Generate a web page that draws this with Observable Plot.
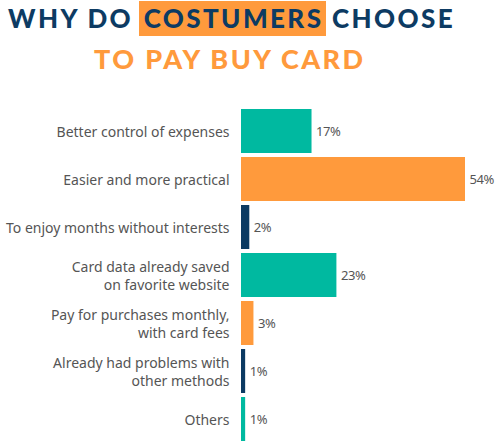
<!DOCTYPE html>
<html><head><meta charset="utf-8">
<script src="https://cdn.jsdelivr.net/npm/d3@7"></script>
<script src="https://cdn.jsdelivr.net/npm/@observablehq/plot@0.6"></script>
<style>
html,body{margin:0;padding:0;background:#fff;overflow:hidden;width:496px;height:441px}
#title{position:relative;height:105px;width:496px;font-family:Lato,"DejaVu Sans",sans-serif;font-weight:900}
#t1{position:absolute;left:8px;top:1px;height:35px;line-height:35px;font-size:26px;letter-spacing:2.4px;color:#0d3b63;white-space:nowrap}
#t1 .hl{background:#ff9a3c;padding:0 3px 0 5px;margin:0 -3px 0 -3px;display:inline-block;height:35px}
#t2{position:absolute;left:94px;top:42px;height:34px;line-height:34px;font-size:27px;letter-spacing:2.4px;color:#ff9a3c;white-space:nowrap}
#chart svg{display:block}
#chart svg g.vals text{letter-spacing:-0.4px}
</style></head>
<body>
<div id="title">
  <div id="t1">WHY DO <span class="hl">COSTUMERS</span> CHOOSE</div>
  <div id="t2">TO PAY BUY CARD</div>
</div>
<div id="chart"></div>
<script>
const categories = [
  "Better control of expenses",
  "Easier and more practical",
  "To enjoy months without interests",
  "Card data already saved\non favorite website",
  "Pay for purchases monthly,\nwith card fees",
  "Already had problems with\nother methods",
  "Others"
];
const values = [17, 54, 2, 23, 3, 1, 1];
const colorKeys = ["A", "B", "C", "A", "B", "C", "A"];
const valueLabels = ["17%", "54%", "2%", "23%", "3%", "1%", "1%"];

const data = categories.map((c, i) => ({cat: c, value: values[i], key: colorKeys[i], label: valueLabels[i]}));

const chart = Plot.plot({
  width: 496,
  height: 338,
  marginTop: 2,
  marginBottom: 0,
  marginLeft: 241,
  marginRight: 31,
  style: {fontFamily: "'Noto Sans', sans-serif", fontSize: "14px", background: "#fff"},
  x: {domain: [0, 54], axis: null},
  y: {domain: categories, axis: null, paddingInner: 4/48, paddingOuter: 2/48},
  color: {domain: ["A", "B", "C"], range: ["#00b9a0", "#ff9a3c", "#0b3a62"]},
  marks: [
    Plot.barX(data, {x: "value", y: "cat", fill: "key"}),
    Plot.text(data, {x: 0, y: "cat", text: "cat", textAnchor: "end", dx: -12, fill: "#555", lineHeight: 1.28, fontSize: 14}),
    Plot.text(data, {x: "value", y: "cat", text: "label", textAnchor: "start", dx: 4, fill: "#555", fontSize: 13, className: "vals"})
  ]
});
document.getElementById("chart").appendChild(chart);
</script>
</body></html>
